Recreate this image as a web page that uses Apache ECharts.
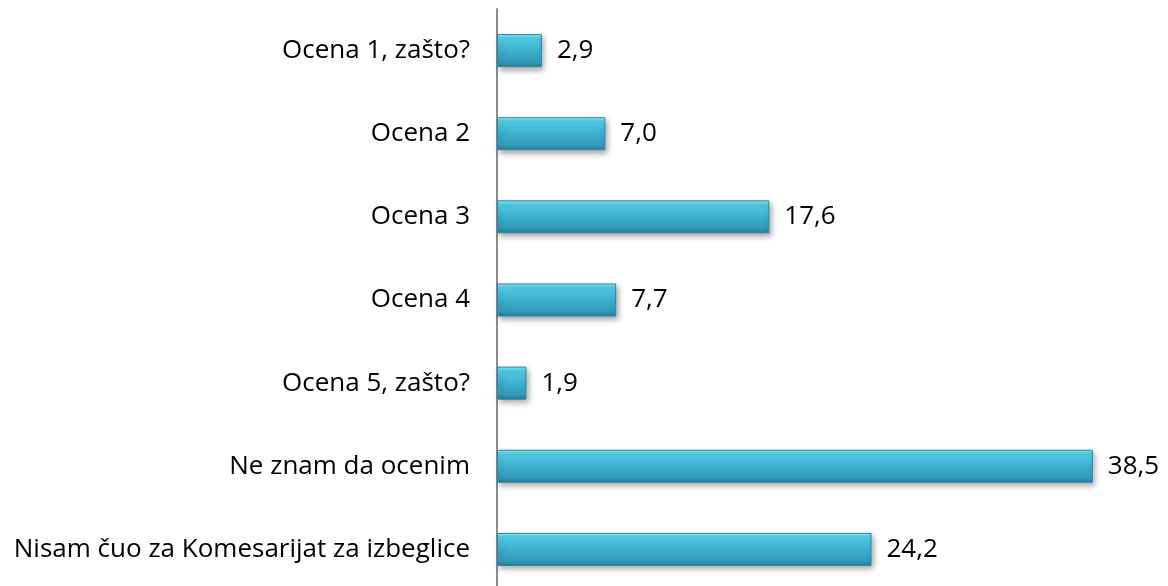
<!DOCTYPE html>
<html>
<head>
<meta charset="utf-8">
<script src="https://cdn.jsdelivr.net/npm/echarts@6/dist/echarts.min.js"></script>
<style>
html,body{margin:0;padding:0;background:#fff}
#chart{width:1168px;height:586px}
</style>
</head>
<body>
<div id="chart"></div>
<script>
var categories = ['Ocena 1, zašto?', 'Ocena 2', 'Ocena 3', 'Ocena 4', 'Ocena 5, zašto?', 'Ne znam da ocenim', 'Nisam čuo za Komesarijat za izbeglice'];
var values = [2.9, 7.0, 17.6, 7.7, 1.9, 38.5, 24.2];

var myChart = echarts.init(document.getElementById('chart'));

var barColor = new echarts.graphic.LinearGradient(0, 0, 0, 1, [
    {offset: 0, color: '#8ef0fb'},
    {offset: 0.12, color: '#55cde6'},
    {offset: 0.5, color: '#3bb0d0'},
    {offset: 0.85, color: '#3399b8'},
    {offset: 1, color: '#2a7f99'}
]);

var option = {
    animation: false,
    grid: {left: 497, top: 9, width: 619, height: 582, outerBoundsMode: 'none', containLabel: false},
    xAxis: {
        type: 'value',
        min: 0,
        max: 40,
        show: false
    },
    yAxis: {
        type: 'category',
        inverse: true,
        data: categories,
        axisLine: {show: true, lineStyle: {color: '#8c8c8c', width: 2}},
        axisTick: {show: false},
        axisLabel: {
            color: '#000',
            fontSize: 26,
            fontFamily: 'Open Sans',
            margin: 27
        }
    },
    series: [{
        type: 'bar',
        data: values,
        barWidth: 33,
        itemStyle: {
            color: barColor,
            borderColor: '#2c86a0',
            borderWidth: 1,
            shadowColor: 'rgba(0,0,0,0.35)',
            shadowBlur: 6,
            shadowOffsetX: 2,
            shadowOffsetY: 3
        },
        label: {
            show: true,
            position: 'right',
            distance: 15,
            color: '#000',
            fontSize: 26,
            fontFamily: 'Open Sans',
            formatter: function (p) {
                return p.value.toFixed(1).replace('.', ',');
            }
        }
    }]
};

myChart.setOption(option);
</script>
</body>
</html>
